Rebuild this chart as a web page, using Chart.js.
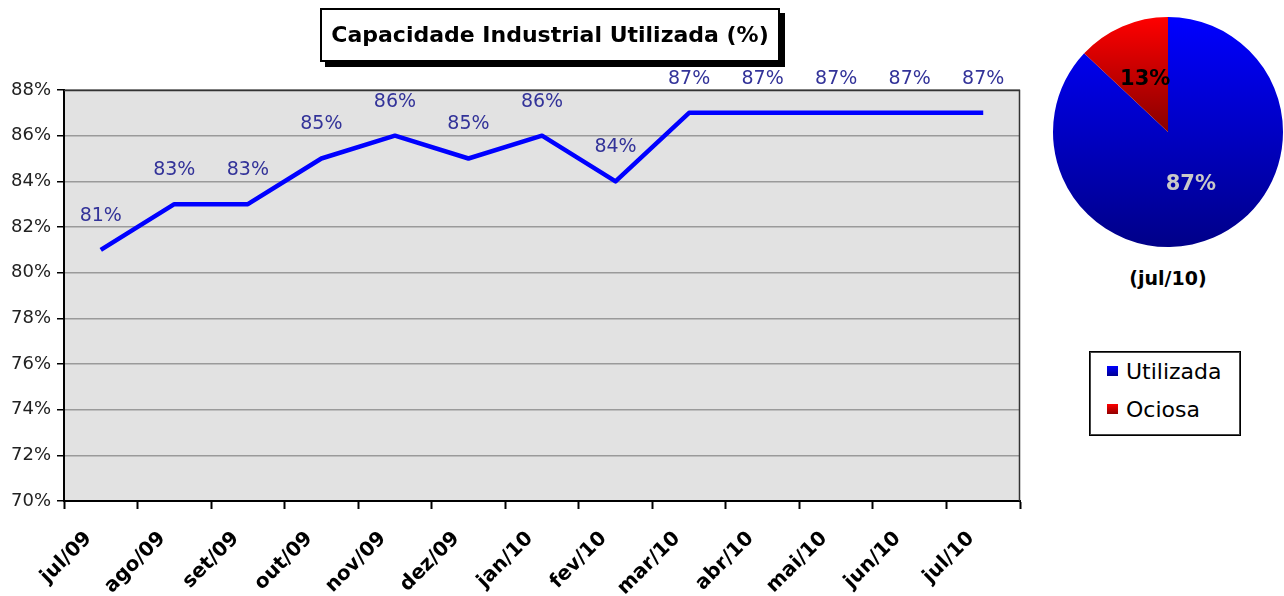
<!DOCTYPE html>
<html>
<head>
<meta charset="utf-8">
<script src="https://cdn.jsdelivr.net/npm/chart.js@4.4.0/dist/chart.umd.min.js"></script>
<style>
html, body { margin: 0; padding: 0; background: #fff; width: 1284px; height: 596px; overflow: hidden; font-family: "DejaVu Sans", sans-serif; }
#lineChart { position: absolute; left: 0; top: 0; }
#pieChart  { position: absolute; left: 1048px; top: 12px; }
#title {
  position: absolute; left: 320px; top: 8px; width: 456px; height: 50px;
  border: 2px solid #000; box-shadow: 5px 5px 0 #000; background: #fff;
  font-weight: bold; font-size: 22px; line-height: 50px; text-align: center; color: #000;
}
#pieNote { position: absolute; left: 1068px; width: 200px; top: 267px; text-align: center; font-weight: bold; font-size: 19px; }
#legend {
  position: absolute; left: 1089px; top: 351px; width: 150px; height: 83px;
  border: 1px solid #000; box-shadow: inset 0 0 0 1px #444; background: #fff;
}
.item { position: absolute; left: 17px; font-size: 22px; line-height: 26px; }
.item i { display: inline-block; width: 11px; height: 10px; margin-right: 8px; vertical-align: 3px; }
</style>
</head>
<body>
<canvas id="lineChart" width="1040" height="596"></canvas>
<canvas id="pieChart" width="240" height="240"></canvas>
<div id="title">Capacidade Industrial Utilizada (%)</div>
<div id="pieNote">(jul/10)</div>
<div id="legend">
  <div class="item" style="top:7px"><i style="background:linear-gradient(#0000ff,#000090)"></i>Utilizada</div>
  <div class="item" style="top:45px"><i style="background:linear-gradient(#ff0000,#900000)"></i>Ociosa</div>
</div>
<script>
// data
const months   = ['jul/09','ago/09','set/09','out/09','nov/09','dez/09','jan/10','fev/10','mar/10','abr/10','mai/10','jun/10','jul/10'];
const capacity = [81, 83, 83, 85, 86, 85, 86, 84, 87, 87, 87, 87, 87];
const pieLabels = ['Utilizada', 'Ociosa'];
const pieValues = [87, 13];
const yMin = 70, yMax = 88, yStep = 2;

// grey plot area with dark top/right frame
const plotFrame = {
  id: 'plotFrame',
  beforeDraw(chart) {
    const { ctx, chartArea: a } = chart;
    ctx.save();
    ctx.fillStyle = '#e2e2e2';
    ctx.fillRect(a.left, a.top, a.right - a.left, a.bottom - a.top);
    ctx.restore();
  },
  afterDraw(chart) {
    const { ctx, chartArea: a } = chart;
    ctx.save();
    ctx.strokeStyle = '#333';
    ctx.lineWidth = 1.5;
    ctx.beginPath();
    ctx.moveTo(a.left, a.top + 0.5);
    ctx.lineTo(a.right - 0.5, a.top + 0.5);
    ctx.lineTo(a.right - 0.5, a.bottom);
    ctx.stroke();
    ctx.restore();
  }
};

// value labels above the line points
const pointLabels = {
  id: 'pointLabels',
  afterDraw(chart) {
    const { ctx } = chart;
    const meta = chart.getDatasetMeta(0);
    ctx.save();
    ctx.font = '19px "DejaVu Sans"';
    ctx.fillStyle = '#333399';
    ctx.textAlign = 'center';
    ctx.textBaseline = 'middle';
    meta.data.forEach((pt, i) => {
      ctx.fillText(capacity[i] + '%', pt.x, pt.y - 34);
    });
    ctx.restore();
  }
};

new Chart(document.getElementById('lineChart'), {
  type: 'line',
  data: {
    labels: months,
    datasets: [{
      data: capacity,
      borderColor: '#0000ff',
      borderWidth: 4.5,
      pointRadius: 0,
      tension: 0,
      borderJoinStyle: 'round'
    }]
  },
  options: {
    responsive: false,
    animation: false,
    layout: { padding: { top: 90, right: 20, left: 0, bottom: 0 } },
    plugins: { legend: { display: false }, tooltip: { enabled: false } },
    scales: {
      x: {
        offset: true,
        grid: { offset: true, drawOnChartArea: false, tickLength: 8, tickColor: '#000', tickWidth: 2 },
        border: { color: '#000', width: 2 },
        ticks: {
          autoSkip: false, maxRotation: 45, minRotation: 45, color: '#000',
          padding: 18, labelOffset: -12,
          font: { family: 'DejaVu Sans', size: 20, weight: 'bold' }
        },
        afterFit(s) { s.height = 95; }
      },
      y: {
        min: yMin, max: yMax,
        grid: { color: '#9a9a9a', lineWidth: 1.5, tickLength: 7, tickColor: '#000' },
        border: { color: '#000', width: 2 },
        ticks: {
          stepSize: yStep, padding: 6, color: '#222',
          font: { family: 'DejaVu Sans', size: 18 },
          callback: v => v + '%'
        },
        afterFit(s) { s.width = 64; }
      }
    }
  },
  plugins: [plotFrame, pointLabels]
});

// pie with vertical shading per slice
function sliceFill(ctx) {
  const chart = ctx.chart;
  const a = chart.chartArea;
  if (!a) return ctx.dataIndex === 0 ? '#0000ff' : '#ff0000';
  const g = chart.ctx.createLinearGradient(0, a.top, 0, ctx.dataIndex === 0 ? a.bottom : (a.top + a.bottom) / 2);
  if (ctx.dataIndex === 0) { g.addColorStop(0, '#0000ff'); g.addColorStop(1, '#000088'); }
  else { g.addColorStop(0, '#ff0000'); g.addColorStop(1, '#880000'); }
  return g;
}

const sliceLabels = {
  id: 'sliceLabels',
  afterDatasetsDraw(chart) {
    const { ctx } = chart;
    const meta = chart.getDatasetMeta(0);
    ctx.save();
    ctx.font = 'bold 21px "DejaVu Sans"';
    ctx.textAlign = 'center';
    ctx.textBaseline = 'middle';
    meta.data.forEach((arc, i) => {
      const p = arc.getCenterPoint();
      ctx.fillStyle = i === 0 ? '#c8c8c8' : '#000';
      ctx.fillText(pieValues[i] + '%', p.x, p.y);
    });
    ctx.restore();
  }
};

new Chart(document.getElementById('pieChart'), {
  type: 'pie',
  data: {
    labels: pieLabels,
    datasets: [{ data: pieValues, backgroundColor: sliceFill, borderWidth: 0 }]
  },
  options: {
    responsive: false,
    animation: false,
    layout: { padding: 5 },
    plugins: { legend: { display: false }, tooltip: { enabled: false } }
  },
  plugins: [sliceLabels]
});
</script>
</body>
</html>
